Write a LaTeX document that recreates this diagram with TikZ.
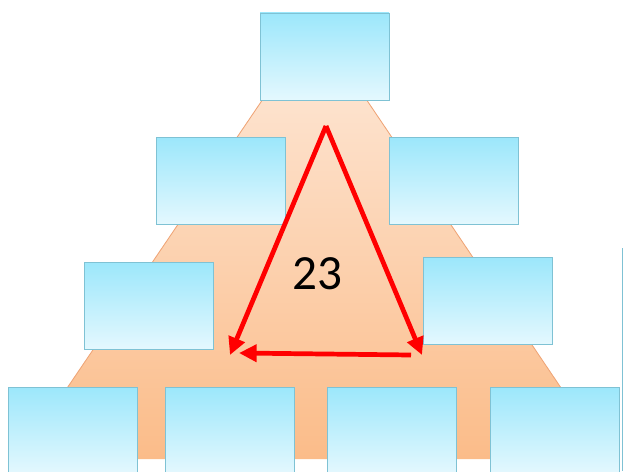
\documentclass[tikz,border=0pt]{standalone}
\usepackage{fontspec}
\newfontfamily\numfont{Carlito}
\usepackage{xcolor}
\usepackage{tikz}
\usetikzlibrary{arrows.meta, shadows}

\definecolor{boxtop}{HTML}{9CE7FB}
\definecolor{boxbottom}{HTML}{E4F8FE}
\definecolor{boxline}{HTML}{7FC2D4}
\definecolor{peachtop}{HTML}{FDE2CD}
\definecolor{peachbottom}{HTML}{FBBC89}
\definecolor{peachedge}{HTML}{EFA476}

\begin{document}
\begin{tikzpicture}
            \tikzstyle{every node}=[font=\numfont]
            \tikzstyle{cell}=[rectangle, draw=boxline, line width=0.7pt, top color=boxtop, bottom color=boxbottom, minimum width=3.225cm, minimum height=2.175cm, inner sep=0pt, drop shadow={opacity=0.2, shadow xshift=0.4pt, shadow yshift=-0.4pt}]
            \tikzstyle{turn}=[red, line width=0.118cm, -{Triangle[length=0.44cm, width=0.42cm]}]

            \useasboundingbox (0,0) rectangle (15.6,11.775);
            \clip (0,0) rectangle (15.6,11.775);

            % Pyramid
            \shade[top color=peachtop, bottom color=peachbottom] (6.575,9.3) -- (9.15,9.3) -- (15.225,0.3) -- (0.475,0.3) -- cycle;
            \draw[peachedge, line width=0.6pt] (6.575,9.3) -- (0.475,0.3);
            \draw[peachedge, line width=0.6pt] (9.15,9.3) -- (15.225,0.3);

            % Edge at the right
            \draw[boxline, line width=0.6pt] (15.57,5.575) -- (15.57,0);

            % Top
            \node[cell] (top) at (8.1125, 10.3625) {};

            % Row 2
            \node[cell] (midleft) at (5.5125, 7.25) {};
            \node[cell] (midright) at (11.3375, 7.25) {};

            % Row 3
            \node[cell] (lowleft) at (3.725, 4.1375) {};
            \node[cell] (lowright) at (12.2, 4.25) {};

            % Base
            \node[cell] (base1) at (1.8125, 1.0125) {};
            \node[cell] (base2) at (5.75, 1.0125) {};
            \node[cell] (base3) at (9.8, 1.0125) {};
            \node[cell] (base4) at (13.875, 1.0125) {};

            % Triangle of arrows
            \coordinate (apex) at (8.15, 8.625);
            \coordinate (leftend) at (5.75, 2.9);
            \coordinate (rightend) at (10.55, 2.9);
            \coordinate (backstart) at (10.275, 2.9);
            \coordinate (backend) at (5.975, 2.95);
            \draw[turn] (apex) -- (leftend);
            \draw[turn] (apex) -- (rightend);
            \draw[turn] (backstart) -- (backend);

            \node (count) at (7.925, 4.925) {\fontsize{35}{40}\selectfont 23};
\end{tikzpicture}
\end{document}
